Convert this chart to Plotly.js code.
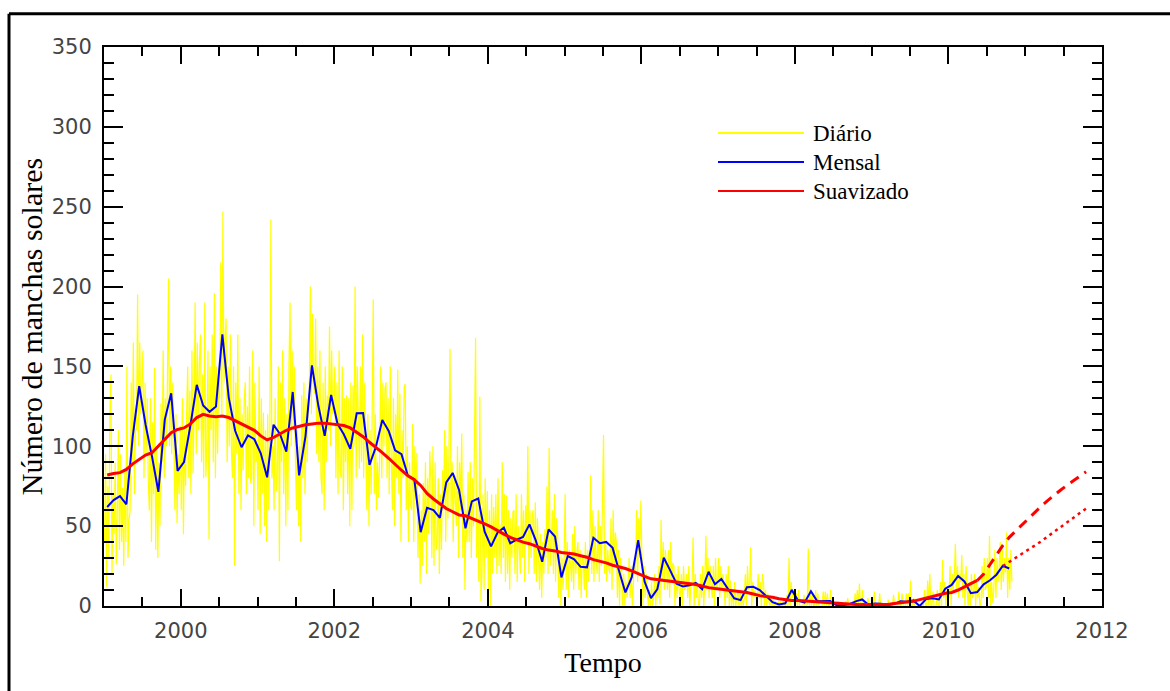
<!DOCTYPE html>
<html>
<head>
<meta charset="utf-8">
<script src="https://cdn.plot.ly/plotly-3.0.1.min.js"></script>
<style>
  html, body { margin: 0; padding: 0; background: #ffffff; }
  #chart { width: 1170px; height: 691px; }
</style>
</head>
<body>
<div id="chart"></div>
<script>
// ---------------- DATA ----------------
const startYear = 1999;

// Monthly mean sunspot number (Jan 1999 .. Oct 2010)
const mensal = [
  62.0, 66.3, 68.8, 63.7, 106.4, 137.7, 113.5, 93.7, 71.5, 116.7, 133.2, 84.6,
  90.1, 112.9, 138.5, 125.5, 121.6, 124.9, 170.1, 130.5, 109.7, 99.4, 106.8, 104.4,
  95.6, 80.6, 113.5, 107.7, 96.6, 134.0, 81.8, 106.4, 150.7, 125.5, 106.5, 132.2,
  114.1, 107.4, 98.4, 120.7, 120.8, 88.3, 99.6, 116.4, 109.6, 97.5, 95.0, 81.6,
  79.5, 46.2, 61.5, 60.0, 55.2, 77.4, 83.3, 72.7, 48.7, 65.5, 67.3, 46.5,
  37.3, 45.8, 49.1, 39.3, 41.5, 43.2, 51.1, 40.9, 27.7, 48.0, 43.5, 17.9,
  31.3, 29.2, 24.5, 24.2, 42.7, 39.3, 40.1, 36.4, 22.1, 8.5, 18.0, 41.2,
  15.3, 4.9, 10.6, 30.2, 22.3, 13.9, 12.2, 12.9, 14.4, 10.5, 21.4, 13.6,
  16.9, 10.6, 4.8, 3.7, 11.7, 12.0, 10.0, 6.2, 2.4, 0.9, 1.7, 10.1,
  3.3, 2.1, 9.3, 2.9, 2.9, 3.1, 0.5, 0.5, 1.1, 2.9, 4.1, 0.8,
  1.5, 1.4, 0.7, 1.2, 2.9, 2.6, 3.5, 0.0, 4.3, 4.8, 4.1, 10.8,
  13.2, 18.8, 15.4, 8.0, 8.7, 13.6, 16.1, 19.6, 25.2, 23.5
];

// 13-month smoothed sunspot number (Jan 1999 .. May 2010)
const suavizado = [
  82, 83, 83.5, 85.5, 89, 92, 94.5, 96, 100, 104, 108.5, 110.5,
  111.5, 114, 118, 120, 119, 118.5, 119, 118, 116, 114, 112, 110,
  106.5, 104, 105.5, 108, 110, 111.5, 112.5, 113.5, 114, 114.5, 114.5, 114,
  113.5, 113, 111.5, 109, 106, 102.5, 99.5, 96, 92.5, 88.5, 85, 81.5,
  79, 75.5, 70.5, 67, 64, 61, 59, 57, 56.5, 55, 53.5, 51.5,
  49.5, 47, 45, 43, 41.5, 40, 39, 37.5, 36, 35, 34.5, 33.5,
  33, 32.5, 31.5, 30.5, 29, 28, 27, 25.5, 24.5, 23.5, 22, 20,
  18.5, 17, 16.5, 16, 15.5, 15, 14.5, 14, 13.5, 12.5, 11.5, 11,
  10.5, 10, 9.5, 9, 8.5, 7.5, 6.5, 6, 5.5, 4.5, 4, 3.5,
  3.5, 3.2, 3, 2.8, 2.5, 2.2, 2, 1.5, 1.2, 1, 1, 1,
  1, 1, 1, 1.5, 2, 2.5, 3, 4, 5, 6, 7, 8,
  8.5, 10, 12, 14, 16
];

// Predictions (upper: from May 2010, lower: from Sep 2010, to Oct 2011)
const previsaoAltaInicio = 136;   // month index of May 2010
const previsaoAlta = [16, 20, 26, 32, 38, 43, 47, 51, 55, 59, 62.5, 66, 69.5, 72.5, 75.5, 78.5, 81.5, 84];
const previsaoBaixaInicio = 140;  // month index of Sep 2010
const previsaoBaixa = [25, 27.5, 30, 33, 35.5, 38, 40.5, 43.5, 46.5, 49.5, 52, 55.5, 58.5, 61];

// Daily values, sampled 6 per month (Jan 1999 .. Oct 2010)
const diario = [
  // 1999
  40,95,12,75,30,120, 145,20,70,45,90,26, 60,110,35,95,40,74, 25,85,40,150,30,54,
  60,140,90,165,70,111, 110,195,100,165,120,138, 160,80,140,95,130,79, 60,130,40,115,70,149,
  35,100,30,90,50,127, 90,160,80,130,100,142, 205,100,150,95,140,108, 60,120,52,95,70,113,
  // 2000
  60,130,45,110,75,120, 150,80,135,70,160,83, 120,190,95,165,110,154, 170,90,145,80,190,81,
  100,160,42,150,110,170, 90,196,80,150,95,139, 130,215,120,247,140,168, 180,90,150,100,170,96,
  80,150,25,140,95,170, 70,130,60,120,85,129, 140,70,125,80,150,77, 80,160,50,140,90,104,
  // 2001
  60,150,45,130,70,121, 50,110,40,120,60,106, 242,80,100,60,130,72, 80,150,28,140,90,160,
  70,130,50,120,60,152, 190,100,160,110,150,94, 60,110,50,100,40,132, 80,140,70,130,90,126,
  130,200,120,183,140,133, 180,95,150,90,160,81, 70,140,60,150,90,132, 110,175,100,160,120,127,
  // 2002
  150,80,140,70,160,84, 80,150,60,130,90,132, 70,130,50,140,60,138, 100,200,80,150,110,86,
  150,90,170,80,140,96, 60,120,50,110,70,118, 192,70,120,60,90,68, 90,150,80,140,100,136,
  140,80,130,70,150,90, 60,130,50,120,80,148, 70,133,40,110,80,137, 139,60,100,40,90,63,
  // 2003
  60,114,40,100,70,96, 30,70,14,60,25,77, 40,90,20,80,45,97, 80,30,100,25,90,35,
  40,80,20,70,35,85, 60,110,40,100,55,97, 161,60,90,40,80,67, 50,100,30,90,60,108,
  30,70,10,60,40,84, 40,90,30,80,50,106, 168,30,55,15,131,3, 20,70,10,80,30,72,
  // 2004
  10,60,0,70,20,62, 30,70,20,80,25,51, 20,90,30,70,15,69, 20,60,10,55,30,59,
  60,20,70,15,50,37, 20,70,30,60,15,63, 40,100,20,60,30,56, 60,20,65,15,55,31,
  10,45,5,40,20,48, 30,75,20,99,25,39, 60,20,70,15,55,44, 5,35,0,30,10,28,
  // 2005
  70,10,40,5,35,26, 15,45,10,50,20,34, 40,10,35,5,30,30, 10,40,5,35,15,39,
  82,20,60,15,50,31, 20,60,15,50,25,64, 107,20,40,15,35,23, 20,55,10,60,25,46,
  40,5,35,0,30,22, 0,20,0,15,5,14, 30,5,25,0,20,28, 20,60,15,55,30,66,
  // 2006
  30,0,25,5,20,10, 0,10,0,15,0,5, 20,0,15,5,25,1, 54,15,40,10,35,26,
  10,35,5,40,15,27, 25,0,20,5,25,9, 5,20,0,25,10,12, 20,5,25,0,15,13,
  43,0,20,5,15,1, 0,20,5,25,0,16, 44,10,30,5,25,12, 5,25,0,30,10,14,
  // 2007
  30,5,25,10,20,12, 0,20,5,25,0,16, 0,10,0,15,0,5, 10,0,8,0,6,0,
  5,20,0,25,10,12, 37,0,15,5,10,5, 0,20,5,15,0,20, 15,0,10,0,8,3,
  0,5,0,4,0,3, 0,0,3,0,3,0, 0,5,0,0,7,0, 30,0,15,5,10,0,
  // 2008
  0,8,0,10,0,0, 0,0,7,0,5,0, 36,0,10,0,8,0, 0,10,0,8,0,0,
  0,0,9,0,9,0, 8,0,0,10,0,0, 0,0,0,0,3,0, 0,0,0,0,0,3,
  0,5,0,0,0,2, 0,0,8,0,10,0, 14,0,0,10,0,0, 0,0,5,0,0,0,
  // 2009
  0,0,9,0,0,0, 0,8,0,0,0,0, 0,0,0,4,0,0, 0,0,7,0,0,0,
  0,9,0,0,8,0, 0,0,8,0,8,0, 16,0,0,5,0,0, 0,0,0,0,0,0,
  0,10,0,0,16,0, 20,0,0,9,0,0, 0,10,0,0,15,0, 29,5,15,0,10,6,
  // 2010
  5,25,0,20,10,19, 39,10,25,5,20,15, 32,5,20,0,25,10, 0,15,0,20,5,8,
  20,0,15,5,12,0, 0,25,5,30,10,12, 30,5,44,0,15,2, 10,35,5,30,15,23,
  40,10,35,15,30,21, 46,5,30,10,35,15
];
const amostrasPorMes = 6;

const tickAnos = [2000, 2002, 2004, 2006, 2008, 2010, 2012];
const tickManchas = [0, 50, 100, 150, 200, 250, 300, 350];

const nomes = { diario: 'Diário', mensal: 'Mensal', suavizado: 'Suavizado' };
const textos = { eixoX: 'Tempo', eixoY: 'Número de manchas solares' };

// ---------------- BUILD ----------------
const mesAno = k => startYear + (k + 0.5) / 12;
const xMensal = mensal.map((_, k) => mesAno(k));
const xSuav = suavizado.map((_, k) => mesAno(k));
const xAlta = previsaoAlta.map((_, k) => mesAno(previsaoAltaInicio + k));
const xBaixa = previsaoBaixa.map((_, k) => mesAno(previsaoBaixaInicio + k));
const xDiario = diario.map((_, i) => startYear + (i + 0.5) / (12 * amostrasPorMes));

const traces = [
  { x: xDiario, y: diario, type: 'scatter', mode: 'lines', name: nomes.diario,
    line: { color: '#ffff00', width: 1.2 }, showlegend: false, hoverinfo: 'skip' },
  { x: xMensal, y: mensal, type: 'scatter', mode: 'lines', name: nomes.mensal,
    line: { color: '#0000ff', width: 2 }, showlegend: false },
  { x: xSuav, y: suavizado, type: 'scatter', mode: 'lines', name: nomes.suavizado,
    line: { color: '#ff0000', width: 3 }, showlegend: false },
  { x: xAlta, y: previsaoAlta, type: 'scatter', mode: 'lines', name: 'Previsão (alta)',
    line: { color: '#ff0000', width: 3, dash: '10px,7px' }, showlegend: false },
  { x: xBaixa, y: previsaoBaixa, type: 'scatter', mode: 'lines', name: 'Previsão (baixa)',
    line: { color: '#ff0000', width: 2.5, dash: '3px,4px' }, showlegend: false }
];

// plot area in px: left 104, right 1102, top 47, bottom 606
const W = 1170, H = 691, L = 104, R = 68, T = 47, B = 85;
const pw = W - L - R, ph = H - T - B;
const px = v => (v - L) / pw;
const py = v => (H - B - v) / ph;

const legendaItens = [
  { nome: nomes.diario, cor: '#ffff00', y: 133 },
  { nome: nomes.mensal, cor: '#0000ff', y: 162 },
  { nome: nomes.suavizado, cor: '#ff0000', y: 191 }
];

const shapes = [
  // outer frame (top + left edges)
  { type: 'line', xref: 'paper', yref: 'paper', x0: px(9), x1: px(1200), y0: py(13.8), y1: py(13.8),
    line: { color: '#000', width: 3 } },
  { type: 'line', xref: 'paper', yref: 'paper', x0: px(9), x1: px(9), y0: py(13.8), y1: py(720),
    line: { color: '#000', width: 3 } }
];
const annotations = [];
legendaItens.forEach(it => {
  shapes.push({ type: 'line', xref: 'paper', yref: 'paper', x0: px(718), x1: px(804), y0: py(it.y), y1: py(it.y),
    line: { color: it.cor, width: 2 } });
  annotations.push({ xref: 'paper', yref: 'paper', x: px(811), y: py(it.y), xanchor: 'left', yanchor: 'middle',
    text: it.nome, showarrow: false, font: { family: 'Liberation Serif, Times New Roman, serif', size: 23, color: '#000' } });
});

const tickFont = { family: 'DejaVu Sans, sans-serif', size: 21, color: '#444' };
const titleFont = { family: 'Liberation Serif, Times New Roman, serif', size: 28, color: '#000' };

const layout = {
  width: W, height: H,
  margin: { l: L, r: R, t: T, b: B },
  paper_bgcolor: '#ffffff', plot_bgcolor: '#ffffff',
  showlegend: false,
  xaxis: {
    range: [1999, 2012], tickvals: tickAnos, ticktext: tickAnos.map(String),
    showline: true, linecolor: '#000', linewidth: 2, mirror: 'ticks',
    ticks: 'inside', ticklen: 17, tickwidth: 2, tickcolor: '#000',
    minor: { dtick: 0.5, tick0: 1999, ticks: 'inside', ticklen: 9, tickwidth: 2, tickcolor: '#000', showgrid: false },
    showgrid: false, zeroline: false, tickfont: tickFont, ticklabelstandoff: 5,
    title: { text: textos.eixoX, font: titleFont, standoff: 10 }
  },
  yaxis: {
    range: [0, 350], tickvals: tickManchas, ticktext: tickManchas.map(String),
    showline: true, linecolor: '#000', linewidth: 2, mirror: 'ticks',
    ticks: 'inside', ticklen: 19, tickwidth: 2, tickcolor: '#000',
    minor: { dtick: 10, tick0: 0, ticks: 'inside', ticklen: 10, tickwidth: 2, tickcolor: '#000', showgrid: false },
    showgrid: false, zeroline: false, tickfont: tickFont, ticklabelstandoff: 6,
    title: { text: textos.eixoY, font: { family: titleFont.family, size: 30, color: '#000' }, standoff: 0 }
  },
  shapes: shapes,
  annotations: annotations
};

Plotly.newPlot('chart', traces, layout, { displayModeBar: false, staticPlot: true });
</script>
</body>
</html>
